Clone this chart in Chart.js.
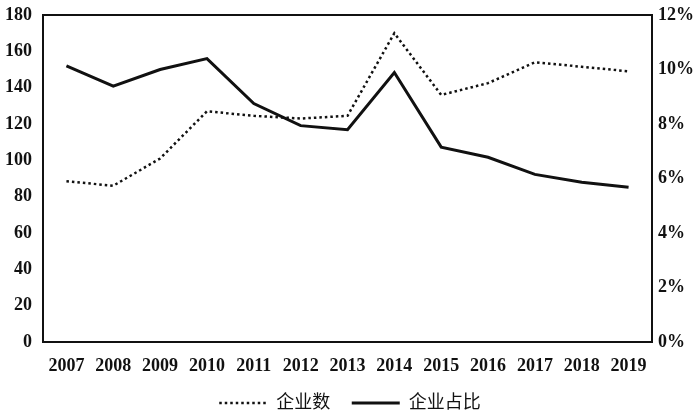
<!DOCTYPE html>
<html>
<head>
<meta charset="utf-8">
<script src="https://cdn.jsdelivr.net/npm/chart.js@4.4.1/dist/chart.umd.min.js"></script>
<style>
  html, body { margin: 0; padding: 0; background: #fff; }
  #wrap { width: 700px; height: 420px; }
</style>
</head>
<body>
<div id="wrap"><canvas id="chart"></canvas></div>
<script>
// data
const years = ['2007','2008','2009','2010','2011','2012','2013','2014','2015','2016','2017','2018','2019'];
const firmCount = [88.5, 86, 101, 127, 124.5, 123, 124.5, 170, 136, 142.5, 154, 151.5, 149];
const firmShare = [10.13, 9.39, 10.0, 10.4, 8.75, 7.94, 7.79, 9.89, 7.15, 6.78, 6.15, 5.86, 5.68];
const countTicks = [0, 20, 40, 60, 80, 100, 120, 140, 160, 180];
const shareTicks = [0, 2, 4, 6, 8, 10, 12];

const ink = '#111';
const textFont = { family: '"Liberation Serif", "Noto Sans CJK SC", serif', size: 18, weight: 'bold', lineHeight: 1 };
const legendFont = { family: '"Liberation Serif", "Noto Sans CJK SC", serif', size: 18 };

// draw the closed frame round the plot
const frame = {
  id: 'frame',
  afterDraw(chart) {
    const a = chart.chartArea;
    const ctx = chart.ctx;
    ctx.save();
    ctx.strokeStyle = ink;
    ctx.lineWidth = 2;
    ctx.strokeRect(a.left, a.top, a.right - a.left, a.bottom - a.top);
    ctx.restore();
  }
};

const noGrid = { display: false, drawTicks: false };

// fixed side widths so the plot box lands where the reference has it
const fitSide = w => s => { s.width = w; s.paddingTop = 15; s.paddingBottom = 0; };

new Chart(document.getElementById('chart'), {
  type: 'line',
  data: {
    labels: years,
    datasets: [
      {
        label: '企业数',
        data: firmCount,
        yAxisID: 'y',
        borderColor: ink,
        backgroundColor: ink,
        borderWidth: 2.5,
        borderDash: [2.5, 3],
        pointRadius: 0,
        tension: 0
      },
      {
        label: '企业占比',
        data: firmShare,
        yAxisID: 'y2',
        borderColor: ink,
        backgroundColor: ink,
        borderWidth: 3,
        pointRadius: 0,
        tension: 0
      }
    ]
  },
  options: {
    responsive: true,
    maintainAspectRatio: false,
    animation: false,
    layout: { padding: { top: 0, right: 0, left: 0, bottom: -2 } },
    plugins: {
      tooltip: { enabled: false },
      legend: {
        position: 'bottom',
        labels: {
          color: ink,
          font: legendFont,
          usePointStyle: true,
          pointStyleWidth: 48,
          boxHeight: 3,
          padding: 17,
          // line samples instead of boxes; a space widens the gap between items
          generateLabels: chart => chart.data.datasets.map((ds, i, all) => ({
            text: i < all.length - 1 ? ds.label + ' ' : ds.label,
            datasetIndex: i,
            pointStyle: 'line',
            strokeStyle: ds.borderColor,
            fillStyle: ds.borderColor,
            fontColor: ink,
            lineWidth: ds.borderWidth,
            lineDash: ds.borderDash || [],
            hidden: false
          }))
        }
      }
    },
    scales: {
      x: {
        offset: true,
        grid: noGrid,
        border: { display: false },
        afterFit: s => { s.height = 35; },
        ticks: { color: ink, font: textFont, padding: 15, maxRotation: 0, autoSkip: false }
      },
      y: {
        position: 'left',
        min: 0,
        max: 180,
        grid: noGrid,
        border: { display: false },
        afterBuildTicks: s => { s.ticks = countTicks.map(v => ({ value: v })); },
        afterFit: fitSide(43),
        ticks: { color: ink, font: textFont, padding: 11 }
      },
      y2: {
        position: 'right',
        min: 0,
        max: 12,
        grid: noGrid,
        border: { display: false },
        afterBuildTicks: s => { s.ticks = shareTicks.map(v => ({ value: v })); },
        afterFit: fitSide(48),
        ticks: { color: ink, font: textFont, padding: 6, callback: v => v + '%' }
      }
    }
  },
  plugins: [frame]
});
</script>
</body>
</html>
